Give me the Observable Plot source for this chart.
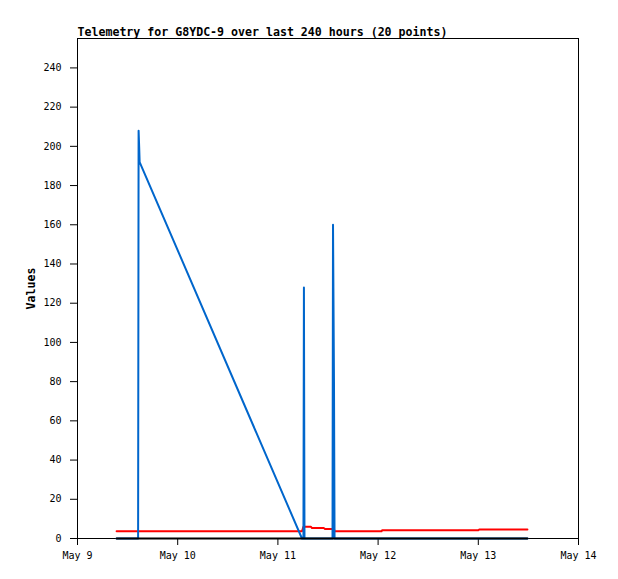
<!DOCTYPE html>
<html><head><meta charset="utf-8">
<script src="https://cdn.jsdelivr.net/npm/d3@7"></script>
<script src="https://cdn.jsdelivr.net/npm/@observablehq/plot@0.6"></script>
<style>body{margin:0;background:#fff}</style>
</head><body><div id="chart"></div>
<script>
const title = "Telemetry for G8YDC-9 over last 240 hours (20 points)";
const yLabel = "Values";
const times = [
  "2024-05-09T09:22Z","2024-05-09T14:31Z","2024-05-09T14:38Z","2024-05-09T14:46Z","2024-05-09T14:53Z",
  "2024-05-11T05:46Z","2024-05-11T06:07Z","2024-05-11T06:14Z","2024-05-11T06:22Z","2024-05-11T07:55Z",
  "2024-05-11T08:10Z","2024-05-11T11:02Z","2024-05-11T11:17Z","2024-05-11T13:05Z","2024-05-11T13:12Z",
  "2024-05-11T13:26Z","2024-05-11T13:34Z","2024-05-12T00:50Z","2024-05-12T00:58Z","2024-05-13T00:00Z",
  "2024-05-13T00:14Z","2024-05-13T11:46Z"
];
const blueValues  = [0,0,208,200,192, 0,0,128,0,0, 0,0,0,0,160, 80,0,0,0,0, 0,0];
const redValues   = [3.7,3.7,3.7,3.7,3.7, 3.7,6.0,6.0,6.0,6.0, 5.3,5.3,4.8,4.8,4.8, 4.8,3.7,3.7,4.2,4.2, 4.6,4.6];
const blackValues = [0,0,0,0,0, 0,0,0,0,0, 0,0,0,0,0, 0,0,0,0,0, 0,0];
const yTicks = [0,20,40,60,80,100,120,140,160,180,200,220,240];
const xTicks = ["2024-05-09","2024-05-10","2024-05-11","2024-05-12","2024-05-13","2024-05-14"];
const yMax = 255;

const toRows = vals => times.map((t, i) => ({time: new Date(t), value: vals[i]}));
const blueRows = toRows(blueValues);
const redRows = toRows(redValues);
const blackRows = toRows(blackValues);
const xTickDates = xTicks.map(d => new Date(d + "T00:00Z"));

const chart = Plot.plot({
  width: 618,
  height: 579,
  marginTop: 38,
  marginLeft: 77,
  marginRight: 40,
  marginBottom: 41,
  style: {fontFamily: "'DejaVu Sans Mono', monospace", fontSize: "10px", color: "black", background: "white"},
  x: {type: "utc", domain: [xTickDates[0], xTickDates[xTickDates.length - 1]]},
  y: {domain: [0, yMax]},
  marks: [
    Plot.frame({stroke: "black", strokeOpacity: 1}),
    Plot.axisX({ticks: xTickDates, tickFormat: d3.utcFormat("%b %-d"), tickSize: 7, tickPadding: 6, label: null, fontSize: 10}),
    Plot.axisY({ticks: yTicks, tickSize: 7, tickPadding: 9, label: null, fontSize: 10}),
    Plot.line(redRows, {x: "time", y: "value", stroke: "#ff0000", strokeWidth: 2}),
    Plot.line(blueRows, {x: "time", y: "value", stroke: "#0066cc", strokeWidth: 2}),
    Plot.line(blackRows, {x: "time", y: "value", stroke: "#000000", strokeWidth: 2}),
    Plot.text([title], {frameAnchor: "top-left", textAnchor: "start", lineAnchor: "bottom", dy: -3, fontWeight: "bold", fontSize: 11.6, fill: "black"}),
    Plot.text([yLabel], {frameAnchor: "left", textAnchor: "middle", rotate: -90, dx: -46, fontWeight: "bold", fontSize: 11.6, fill: "black"})
  ]
});
document.getElementById("chart").appendChild(chart);
</script>
</body></html>
